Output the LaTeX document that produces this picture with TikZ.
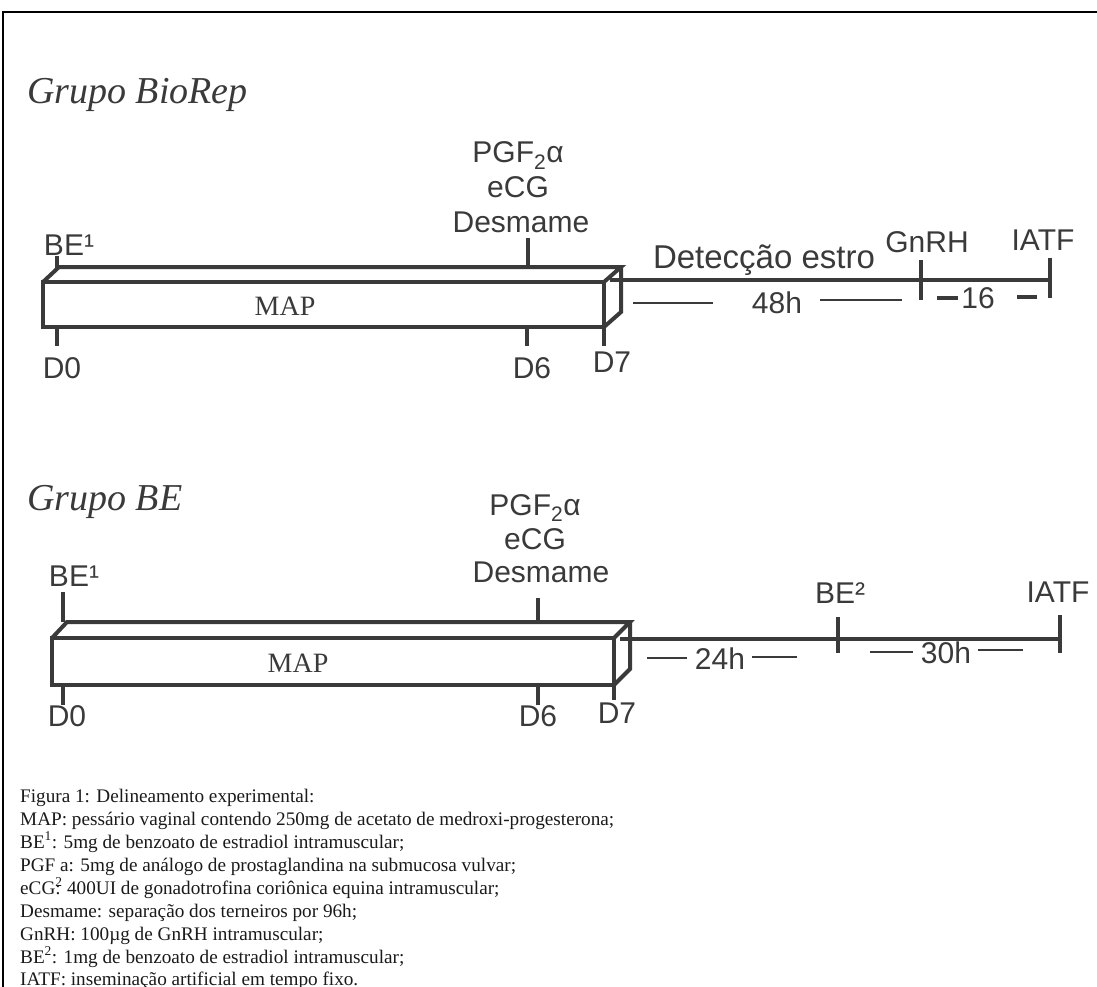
\documentclass[tikz,border=0pt]{standalone}
\usepackage{fontspec}
\setmainfont{Liberation Serif}
\newfontfamily\lsans{Liberation Sans}
\definecolor{ink}{HTML}{3A3A3A}
\definecolor{capt}{HTML}{1A1A1A}
\begin{document}
\begin{tikzpicture}[x=1pt,y=-1pt,
  bar/.style={draw=ink, line width=4pt, line join=miter},
  tk/.style={draw=ink, line width=4pt},
  lab/.style={inner sep=0pt, anchor=base, text=ink, font=\lsans\fontsize{30}{30}\selectfont},
  biglab/.style={lab, font=\lsans\fontsize{33}{33}\selectfont},
  grp/.style={inner sep=0pt, anchor=base west, text=ink, font=\itshape\fontsize{38}{38}\selectfont},
  maplab/.style={inner sep=0pt, anchor=base, text=ink, font=\fontsize{28}{28}\selectfont},
  thinl/.style={draw=ink, line width=1.5pt},
  capl/.style={inner sep=0pt, anchor=base west, text=capt, font=\fontsize{19.2}{23}\selectfont}
]
\useasboundingbox (0,0) rectangle (1097,987);
\draw[line width=2pt] (3,987) -- (3,12) -- (1097,12);

% ---------- Grupo BioRep ----------
\node[grp] (g1) at (27,104) {Grupo BioRep};
\coordinate (a1) at (43,282);
\coordinate (b1) at (604,282);
\coordinate (c1) at (604,327);
\coordinate (d1) at (43,327);
\coordinate (e1) at (59,267);
\coordinate (f1) at (621,267);
\coordinate (h1) at (621,312);
\draw[bar] (a1) -- (b1) -- (c1) -- (d1) -- cycle;
\draw[bar] (a1) -- (e1) -- (f1) -- (b1);
\draw[bar] (f1) -- (h1) -- (c1);
\node[maplab] (map1) at (285,315) {MAP};
\coordinate (s1) at (610,280);
\coordinate (ia1) at (1050,280);
\draw[tk] (s1) -- (ia1);
\draw[tk] (921,260) -- (921,300);
\draw[tk] (1050,258) -- (1050,298);
\draw[tk] (57,256) -- (57,269);
\draw[tk] (528,238) -- (528,269);
\draw[tk] (57,327) -- (57,346);
\draw[tk] (527,327) -- (527,346);
\draw[tk] (604,327) -- (604,346);
\node[lab] (be1) at (69,255) {BE¹};
\node[lab] (pgf1) at (518,163) {PGF\textsubscript{2}α};
\node[lab] (ecg1) at (518,197) {eCG};
\node[lab] (des1) at (521,232) {Desmame};
\node[lab] (d01) at (62,378) {D0};
\node[lab] (d61) at (532,378) {D6};
\node[lab] (d71) at (612,372) {D7};
\node[biglab] (det) at (764,268) {Detecção estro};
\node[lab] (gnrh) at (927,252) {GnRH};
\node[lab] (iatf1) at (1043,250) {IATF};
\node[lab] (h48) at (777,313) {48h};
\draw[thinl] (633,303) -- (713,303);
\draw[thinl] (820,300) -- (902,300);
\node[lab] (h16) at (978,308) {16};
\draw[tk] (937,298) -- (958,298);
\draw[tk] (1017,297) -- (1037,297);

% ---------- Grupo BE ----------
\node[grp] (g2) at (27,510) {Grupo BE};
\coordinate (a2) at (52,638);
\coordinate (b2) at (614,638);
\coordinate (c2) at (614,685);
\coordinate (d2) at (52,685);
\coordinate (e2) at (67,622);
\coordinate (f2) at (630,622);
\coordinate (h2) at (630,669);
\draw[bar] (a2) -- (b2) -- (c2) -- (d2) -- cycle;
\draw[bar] (a2) -- (e2) -- (f2) -- (b2);
\draw[bar] (f2) -- (h2) -- (c2);
\node[maplab] (map2) at (298,672) {MAP};
\coordinate (s2) at (620,639);
\coordinate (ia2) at (1060,639);
\draw[tk] (s2) -- (ia2);
\draw[tk] (838,617) -- (838,653);
\draw[tk] (1060,615) -- (1060,653);
\draw[tk] (63,592) -- (63,622);
\draw[tk] (538,598) -- (538,624);
\draw[tk] (63,685) -- (63,705);
\draw[tk] (538,685) -- (538,705);
\draw[tk] (614,685) -- (614,700);
\node[lab] (be12) at (74,586) {BE¹};
\node[lab] (pgf2) at (535,515) {PGF\textsubscript{2}α};
\node[lab] (ecg2) at (535,549) {eCG};
\node[lab] (des2) at (541,582) {Desmame};
\node[lab] (d02) at (67,726) {D0};
\node[lab] (d62) at (538,726) {D6};
\node[lab] (d72) at (617,723) {D7};
\node[lab] (be2) at (840,603) {BE²};
\node[lab] (iatf2) at (1058,602) {IATF};
\node[lab] (h24) at (720,669) {24h};
\draw[thinl] (647,658) -- (687,658);
\draw[thinl] (752,657) -- (797,657);
\node[lab] (h30) at (946,663) {30h};
\draw[thinl] (870,652) -- (913,652);
\draw[thinl] (978,650) -- (1023,650);

% ---------- caption ----------
\node[capl] (k0) at (20,802) {Figura 1: Delineamento experimental:};
\node[capl] (k1) at (20,825) {MAP: pessário vaginal contendo 250mg de acetato de medroxi-progesterona;};
\node[capl] (k2) at (20,848) {BE\textsuperscript{1}: 5mg de benzoato de estradiol intramuscular;};
\node[capl] (k3) at (20,871) {PGF a: 5mg de análogo de prostaglandina na submucosa vulvar;};
\node[capl] (k4) at (20,894) {eCG\rlap{\textsuperscript{2}}: 400UI de gonadotrofina coriônica equina intramuscular;};
\node[capl] (k5) at (20,917) {Desmame: separação dos terneiros por 96h;};
\node[capl] (k6) at (20,940) {GnRH: 100µg de GnRH intramuscular;};
\node[capl] (k7) at (20,963) {BE\textsuperscript{2}: 1mg de benzoato de estradiol intramuscular;};
\node[capl] (k8) at (20,985) {IATF: inseminação artificial em tempo fixo.};
\end{tikzpicture}
\end{document}
